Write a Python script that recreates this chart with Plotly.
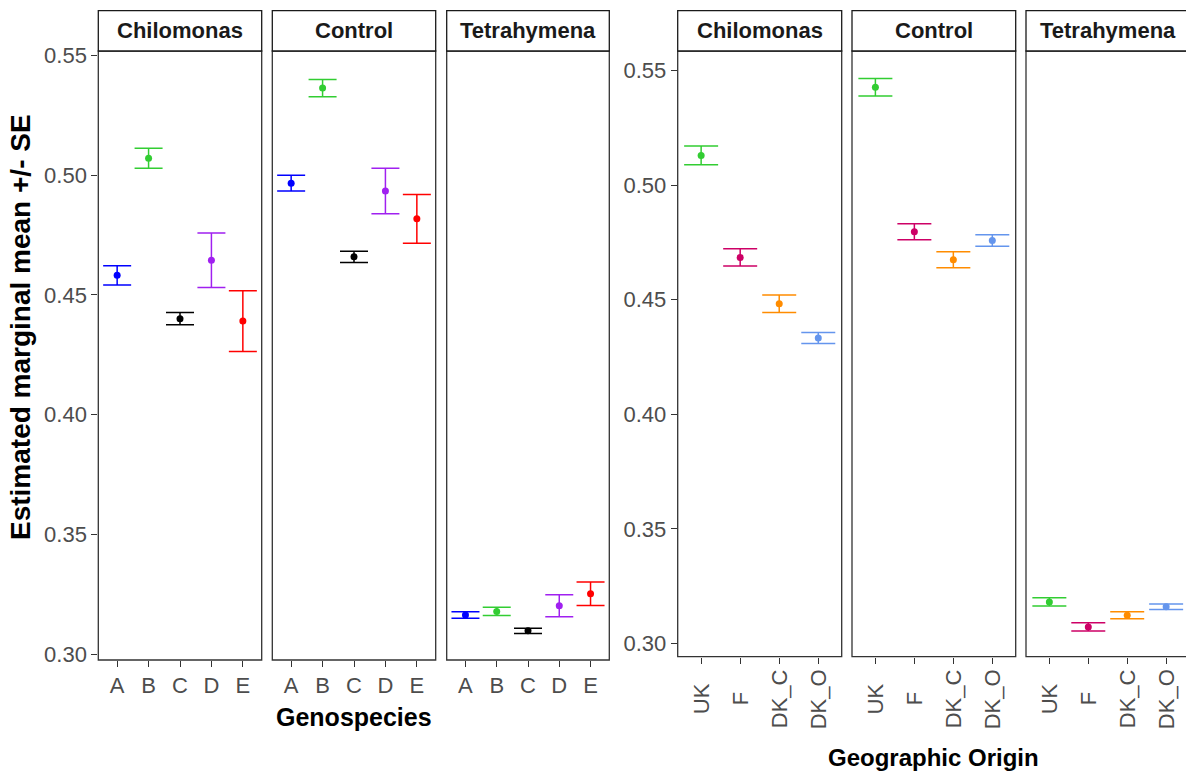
import plotly.graph_objects as go

# ---------------------------------------------------------------- data
treatments = ["Chilomonas", "Control", "Tetrahymena"]

genospecies = ["A", "B", "C", "D", "E"]
geno_colors = ["#0000FF", "#32CD32", "#000000", "#A020F0", "#FF0000"]
geno_chilomonas_mean = [0.4582, 0.5071, 0.4401, 0.4645, 0.4391]
geno_chilomonas_se = [0.0040, 0.0042, 0.0026, 0.0114, 0.0127]
geno_control_mean = [0.4967, 0.5364, 0.4659, 0.4934, 0.4818]
geno_control_se = [0.0033, 0.0036, 0.0024, 0.0095, 0.0102]
geno_tetrahymena_mean = [0.3163, 0.3178, 0.3097, 0.3202, 0.3252]
geno_tetrahymena_se = [0.0014, 0.0017, 0.0011, 0.0046, 0.0049]

origins = ["UK", "F", "DK_C", "DK_O"]
origin_colors = ["#32CD32", "#CD0066", "#FF8C00", "#6495ED"]
origin_chilomonas_mean = [0.5130, 0.4685, 0.4483, 0.4333]
origin_chilomonas_se = [0.0041, 0.0038, 0.0038, 0.0024]
origin_control_mean = [0.5428, 0.4797, 0.4675, 0.4759]
origin_control_se = [0.0038, 0.0035, 0.0035, 0.0025]
origin_tetrahymena_mean = [0.3181, 0.3072, 0.3123, 0.3160]
origin_tetrahymena_se = [0.0018, 0.0018, 0.0015, 0.0012]

y_ticks = [0.30, 0.35, 0.40, 0.45, 0.50, 0.55]

geno_means = [geno_chilomonas_mean, geno_control_mean, geno_tetrahymena_mean]
geno_ses = [geno_chilomonas_se, geno_control_se, geno_tetrahymena_se]
origin_means = [origin_chilomonas_mean, origin_control_mean, origin_tetrahymena_mean]
origin_ses = [origin_chilomonas_se, origin_control_se, origin_tetrahymena_se]

# ---------------------------------------------------------------- layout geometry (pixels)
W, H = 1186, 772
FONT = "Liberation Sans, Arial, sans-serif"
TICK_GREY = "#4D4D4D"
LINE = "#333333"

left_cols = [(98.3, 261.7), (272.3, 435.7), (446.7, 609.3)]
right_cols = [(677.7, 841.7), (852.0, 1015.7), (1026.0, 1189.5)]
left_rows = (51.0, 660.0)
right_rows = (51.0, 656.7)
strip_rows = (10.7, 51.0)
left_yrange = [0.2975, 0.5519]
right_yrange = [0.2942, 0.5586]


def px_x(p):
    return p / W


def px_y(p):
    return 1 - p / H


fig = go.Figure()


def add_panel(idx, cats, colors, means, ses, cap_half, x_box, y_box, yrange, show_y):
    ax = "" if idx == 1 else str(idx)
    for cat, col, m, s in zip(cats, colors, means, ses):
        fig.add_trace(go.Scatter(
            x=[cat], y=[m], mode="markers",
            marker=dict(color=col, size=7),
            error_y=dict(type="data", array=[s], symmetric=True,
                         color=col, thickness=1.5, width=cap_half),
            xaxis="x" + ax, yaxis="y" + ax, showlegend=False,
            hoverinfo="x+y",
        ))
    x0, x1 = x_box
    dom_end = min(x1, W)
    n = len(cats)
    span = n - 1 + 1.2
    r_end = -0.6 + span * (dom_end - x0) / (x1 - x0)
    fig.update_layout(**{
        "xaxis" + ax: dict(
            domain=[px_x(x0), px_x(dom_end)], anchor="y" + ax,
            type="category", categoryorder="array", categoryarray=cats,
            range=[-0.6, r_end], showgrid=False, zeroline=False, showline=False,
            ticks="outside", ticklen=6, tickwidth=1.1, tickcolor=LINE,
            tickfont=dict(family=FONT, size=22, color=TICK_GREY),
            showticklabels=(cats == genospecies), fixedrange=True,
            automargin=False,
        ),
        "yaxis" + ax: dict(
            domain=[px_y(y_box[1]), px_y(y_box[0])], anchor="x" + ax,
            range=yrange, showgrid=False, zeroline=False, showline=False,
            tickvals=y_ticks, tickformat=".2f",
            ticks="outside" if show_y else "", ticklen=6, tickwidth=1.1,
            tickcolor=LINE, showticklabels=show_y,
            tickfont=dict(family=FONT, size=22, color=TICK_GREY),
            fixedrange=True, automargin=False,
        ),
    })
    # panel border
    fig.add_shape(type="rect", xref="paper", yref="paper",
                  x0=px_x(x0), x1=px_x(x1), y0=px_y(y_box[1]), y1=px_y(y_box[0]),
                  line=dict(color=LINE, width=1.3), layer="above")
    # facet strip
    fig.add_shape(type="rect", xref="paper", yref="paper",
                  x0=px_x(x0), x1=px_x(x1), y0=px_y(strip_rows[1]), y1=px_y(strip_rows[0]),
                  line=dict(color="#1A1A1A", width=1.3), fillcolor="white", layer="above")


for i, t in enumerate(treatments):
    add_panel(i + 1, genospecies, geno_colors, geno_means[i], geno_ses[i], 14,
              left_cols[i], left_rows, left_yrange, i == 0)
for i, t in enumerate(treatments):
    add_panel(i + 4, origins, origin_colors, origin_means[i], origin_ses[i], 17,
              right_cols[i], right_rows, right_yrange, i == 0)

annotations = []
# strip labels
for cols in (left_cols, right_cols):
    for (x0, x1), t in zip(cols, treatments):
        annotations.append(dict(
            text="<b>%s</b>" % t, xref="paper", yref="paper",
            x=px_x((x0 + x1) / 2), y=px_y(sum(strip_rows) / 2),
            xanchor="center", yanchor="middle", showarrow=False,
            font=dict(family=FONT, size=22, color="#1A1A1A"),
        ))
# rotated origin tick labels, centred under each tick
for i in range(3):
    ax = str(i + 4)
    for o in origins:
        annotations.append(dict(
            text=o, xref="x" + ax, yref="paper", x=o, y=px_y(699),
            xanchor="center", yanchor="middle", textangle=-90, showarrow=False,
            font=dict(family=FONT, size=22, color=TICK_GREY),
        ))
# axis titles
annotations.append(dict(
    text="<b>Genospecies</b>", xref="paper", yref="paper",
    x=px_x((left_cols[0][0] + left_cols[2][1]) / 2), y=px_y(717),
    xanchor="center", yanchor="middle", showarrow=False,
    font=dict(family=FONT, size=25, color="black"),
))
annotations.append(dict(
    text="<b>Geographic Origin</b>", xref="paper", yref="paper",
    x=px_x((right_cols[0][0] + right_cols[2][1]) / 2), y=px_y(757),
    xanchor="center", yanchor="middle", showarrow=False,
    font=dict(family=FONT, size=24, color="black"),
))
annotations.append(dict(
    text="<b>Estimated marginal mean +/- SE</b>", xref="paper", yref="paper",
    x=px_x(21), y=px_y(327),
    xanchor="center", yanchor="middle", textangle=-90, showarrow=False,
    font=dict(family=FONT, size=28, color="black"),
))

fig.update_layout(
    template="none",
    width=W, height=H,
    margin=dict(l=0, r=0, t=0, b=0, pad=0),
    paper_bgcolor="white", plot_bgcolor="white",
    annotations=annotations,
    showlegend=False,
    font=dict(family=FONT),
)

fig.write_html("out.html", config={"displayModeBar": False})
